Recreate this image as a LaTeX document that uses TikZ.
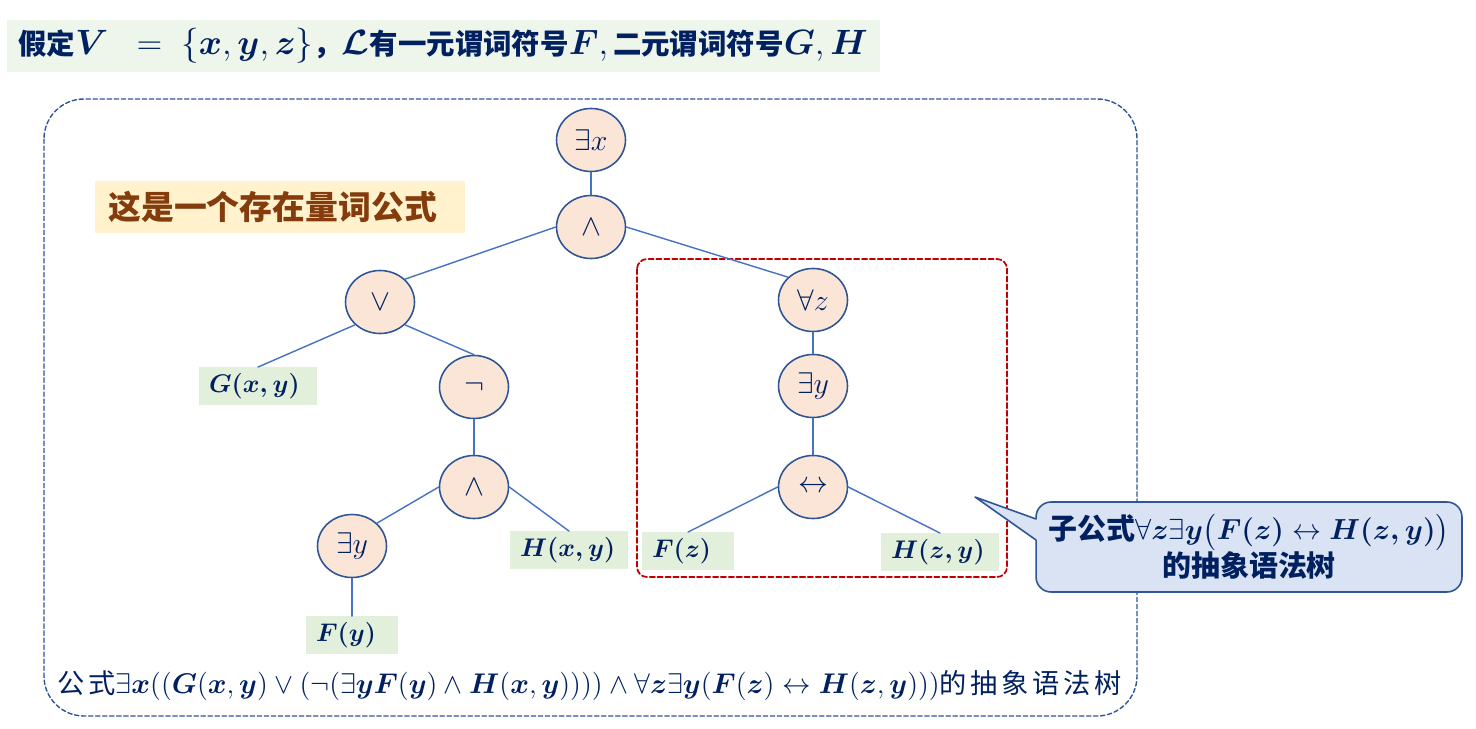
\RequirePackage{fix-cm}
\documentclass[tikz,border=0pt]{standalone}
\usepackage{amsmath}
\usepackage{fontspec}
\newfontfamily\cjk{Noto Sans CJK SC}
\newfontfamily\cjkwide{Noto Sans CJK SC}[LetterSpace=14]
\usetikzlibrary{shapes.geometric}
\definecolor{navy}{HTML}{002060}
\definecolor{opfill}{HTML}{FBE5D6}
\definecolor{opline}{HTML}{2F5597}
\definecolor{edgeblue}{HTML}{4472C4}
\definecolor{leafgreen}{HTML}{E2EFDA}
\definecolor{titlegreen}{HTML}{EEF5EA}
\definecolor{notefill}{HTML}{FFF2CC}
\definecolor{notetext}{HTML}{843C0C}
\definecolor{callblue}{HTML}{DAE3F3}
\definecolor{boxred}{HTML}{C00000}
\newcommand\bv[1]{\boldsymbol{#1}}
\newcommand\mth[2]{{\fontsize{#1}{#1}\selectfont$#2$}}
\begin{document}
\begin{tikzpicture}[x=0.02cm, y=-0.02cm, line join=round, line cap=round,
  op/.style={ellipse, draw=opline, fill=opfill, line width=0.9pt, minimum width=1.38cm,
    minimum height=1.26cm, inner sep=0pt, text=navy, font=\fontsize{17}{17}\selectfont},
  leaf/.style={fill=leafgreen, text width=#1, inner xsep=0.2cm, minimum height=0.72cm,
    align=left, text=navy, font=\fontsize{14.5}{16}\selectfont},
  link/.style={draw=edgeblue, line width=0.8pt}]
	\useasboundingbox (0,0) rectangle (1476,729);
	% title and remark
	\node[fill=titlegreen, anchor=west, text width=17.02cm, inner xsep=0.22cm, minimum height=1.04cm,
	align=left, text=navy, font=\cjk\bfseries\fontsize{16.2}{19}\selectfont] (title) at (7,46)
	{假定\mth{20}{\bv{V}\ \ =\ \{\bv{x},\bv{y},\bv{z}\}}，\mth{20}{\bv{\mathcal{L}}}有一元谓词符号\mth{20}{\bv{F},}\,二元谓词符号\mth{20}{\bv{G},\bv{H}}};
	\draw[opline, dashed, dash pattern=on 2.5pt off 1.5pt, line width=0.8pt, rounded corners=0.8cm]
	(44,99) rectangle (1137,716);
	\node[fill=notefill, anchor=west, text width=6.88cm, inner xsep=0.26cm, minimum height=1.04cm,
	align=left, text=notetext, font=\cjk\bfseries\fontsize{18.7}{22}\selectfont] (remark) at (95,207)
	{这是一个存在量词公式};
	% subtree frame
	\draw[boxred, dash pattern=on 3pt off 1.5pt, line width=1pt, rounded corners=0.2cm]
	(637,259) rectangle (1007,577);
	% operators
	\node[op] (ex) at (591,140) {$\exists x$};
	\node[op] (and1) at (591,227) {$\wedge$};
	\node[op] (or) at (380,302) {$\vee$};
	\node[op] (fa) at (813,300) {$\forall z$};
	\node[op] (neg) at (474,387) {$\neg$};
	\node[op] (ey2) at (813,386) {$\exists y$};
	\node[op] (and2) at (474,487) {$\wedge$};
	\node[op] (iff) at (813,487) {$\leftrightarrow$};
	\node[op] (ey1) at (352,546) {$\exists y$};
	% atoms
	\node[leaf=1.96cm] (gxy) at (258,386) {$\bv{G(x,y)}$};
	\node[leaf=1.96cm] (hxy) at (569,550) {$\bv{H(x,y)}$};
	\node[leaf=1.44cm] (fy) at (352,635) {$\bv{F(y)}$};
	\node[leaf=1.44cm] (fz) at (688,551) {$\bv{F(z)}$};
	\node[leaf=1.96cm] (hzy) at (940,552) {$\bv{H(z,y)}$};
	\foreach \a/\b in {ex.south/and1.north, and1.west/or.north east, and1.east/fa.north west,
		or.south west/gxy.north, or.south east/neg.north, neg.south/and2.north,
		and2.west/ey1.north east, and2.east/hxy.north, ey1.south/fy.north,
		fa.south/ey2.north, ey2.south/iff.north, iff.west/fz.north, iff.east/hzy.north}
	\draw[link] (\a) -- (\b);
	% callout
	\node[draw=opline, fill=callblue, line width=0.9pt, rounded corners=0.3cm, minimum width=8.52cm,
	minimum height=1.8cm, align=center, text=navy, font=\cjk\bfseries\fontsize{16.5}{21}\selectfont]
	(call) at (1249,547)
	{子公式$\forall\bv{z}\exists\bv{y}\bigl(\bv{F(z)}\leftrightarrow\bv{H(z,y)}\bigr)$\\的抽象语法树};
	\path (975,497) coordinate (tip) (1036,519) coordinate (pa) (1036,540) coordinate (pb);
	\fill[callblue] (tip) -- (pa) -- ([xshift=4]pa) -- ([xshift=4]pb) -- (pb) -- cycle;
	\draw[opline, line width=0.9pt] (pa) -- (tip) -- (pb);
	% caption
	\node[anchor=west, text=navy, inner sep=0pt, font=\cjkwide\fontsize{15.5}{17}\selectfont] (cap) at (57,686)
	{公式\mth{16.2}{\exists\bv{x}((\bv{G}(\bv{x},\bv{y})\vee(\neg(\exists\bv{y}\bv{F}(\bv{y})\wedge\bv{H}(\bv{x},\bv{y}))))
	\wedge\forall\bv{z}\exists\bv{y}(\bv{F}(\bv{z})\leftrightarrow\bv{H}(\bv{z},\bv{y})))}的抽象语法树};
\end{tikzpicture}
\end{document}
